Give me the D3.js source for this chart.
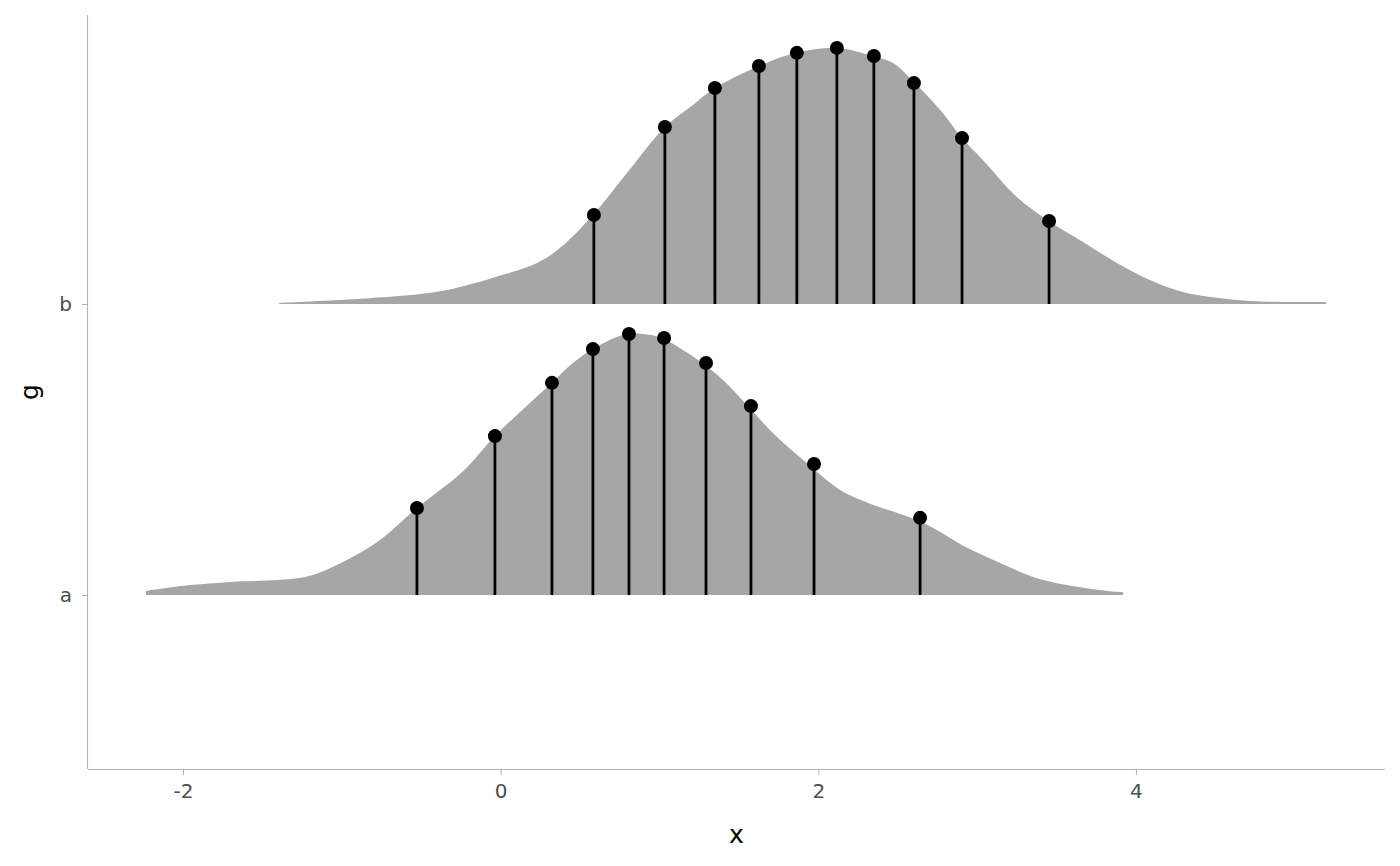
<!DOCTYPE html>
<html><head><meta charset="utf-8">
<script src="https://cdn.jsdelivr.net/npm/d3@7"></script>
<style>body{margin:0;background:#fff}svg{display:block}</style>
</head><body>
<script>
const groups = ["a", "b"];
const xTicks = [-2, 0, 2, 4];
// density curves: x values and heights (in ridge units)
const densA_x = [-2.233,-1.955,-1.703,-1.389,-1.182,-0.968,-0.760,-0.527,-0.237,-0.036,0.184,0.323,0.455,0.581,0.770,0.896,1.016,1.148,1.268,1.400,1.557,1.714,1.935,2.137,2.307,2.584,2.723,2.937,3.145,3.352,3.566,3.818,3.919];
const densA_h = [0.014,0.034,0.045,0.052,0.069,0.120,0.189,0.299,0.425,0.546,0.660,0.729,0.797,0.845,0.893,0.897,0.883,0.842,0.797,0.739,0.649,0.557,0.450,0.361,0.318,0.265,0.230,0.162,0.110,0.062,0.034,0.014,0.010];
const densB_x = [-1.394,-0.823,-0.508,-0.300,0.014,0.229,0.373,0.581,0.795,1.034,1.211,1.349,1.626,1.865,2.117,2.344,2.470,2.608,2.784,2.904,3.036,3.250,3.452,3.666,3.880,4.088,4.296,4.510,4.718,4.925,5.196];
const densB_h = [0.004,0.020,0.034,0.052,0.100,0.141,0.192,0.306,0.450,0.608,0.684,0.742,0.818,0.863,0.880,0.852,0.828,0.759,0.656,0.570,0.495,0.368,0.285,0.213,0.141,0.082,0.041,0.021,0.010,0.007,0.007];
// quantile lines and points
const qA_x = [-0.527,-0.036,0.323,0.581,0.808,1.029,1.293,1.576,1.973,2.641];
const qA_h = [0.299,0.546,0.729,0.845,0.897,0.883,0.797,0.649,0.450,0.265];
const qB_x = [0.587,1.034,1.349,1.626,1.865,2.117,2.350,2.602,2.905,3.453];
const qB_h = [0.306,0.608,0.742,0.818,0.863,0.880,0.852,0.759,0.570,0.285];

const W = 1400, H = 866;
const m = {l: 88, r: 15, t: 15, b: 97};
const svg = d3.select("body").append("svg").attr("width", W).attr("height", H);
const x = d3.scaleLinear().domain([-2.598, 5.568]).range([m.l, W - m.r]);
const y = d3.scaleLinear().domain([0.402, 2.993]).range([H - m.b, m.t]);
const pos = {a: 1, b: 2};

const series = [
  {g: "b", dx: densB_x, dh: densB_h, qx: qB_x, qh: qB_h},
  {g: "a", dx: densA_x, dh: densA_h, qx: qA_x, qh: qA_h}
];

const font = "DejaVu Sans, sans-serif";

series.forEach(s => {
  const base = pos[s.g];
  const pts = s.dx.map((v, i) => [v, s.dh[i]]);
  const area = d3.area().x(d => x(d[0])).y0(y(base)).y1(d => y(base + d[1])).curve(d3.curveCatmullRom.alpha(0.5));
  svg.append("path").datum(pts).attr("d", area).attr("fill", "#A6A6A6");
  const q = s.qx.map((v, i) => [v, s.qh[i]]);
  svg.selectAll(null).data(q).enter().append("line")
    .attr("x1", d => x(d[0])).attr("x2", d => x(d[0]))
    .attr("y1", y(base)).attr("y2", d => y(base + d[1]))
    .attr("stroke", "#000").attr("stroke-width", 2.8);
  svg.selectAll(null).data(q).enter().append("circle")
    .attr("cx", d => x(d[0])).attr("cy", d => y(base + d[1]))
    .attr("r", 7).attr("fill", "#000");
});

// axes
const axCol = "#B3B3B3";
const xAxis = svg.append("g").attr("transform", `translate(0,${H - m.b})`)
  .call(d3.axisBottom(x).tickValues(xTicks).tickSize(6).tickPadding(9).tickFormat(d3.format("d")));
xAxis.select(".domain").attr("stroke", axCol).attr("stroke-width", 1.1).attr("d", `M${m.l},0.5H${W - m.r}`);
xAxis.selectAll(".tick line").attr("stroke", axCol).attr("stroke-width", 1.1);
xAxis.selectAll(".tick text").attr("fill", "#4D4D4D").attr("font-size", 20).attr("font-family", font)
  .text(d => d < 0 ? "-" + Math.abs(d) : d);

const yAxis = svg.append("g").attr("transform", `translate(${m.l},0)`)
  .call(d3.axisLeft(y).tickValues(groups.map(g => pos[g])).tickSize(6).tickPadding(10).tickFormat((d, i) => groups[i]));
yAxis.select(".domain").attr("stroke", axCol).attr("stroke-width", 1.1).attr("d", `M-0.5,${m.t}V${H - m.b}`);
yAxis.selectAll(".tick line").attr("stroke", axCol).attr("stroke-width", 1.1);
yAxis.selectAll(".tick text").attr("fill", "#4D4D4D").attr("font-size", 20).attr("font-family", font);

svg.append("text").attr("x", (m.l + W - m.r) / 2).attr("y", 843).attr("text-anchor", "middle")
  .attr("font-family", font).attr("font-size", 25).attr("fill", "#000").text("x");
svg.append("text").attr("transform", `translate(38,${(m.t + H - m.b) / 2}) rotate(-90)`).attr("text-anchor", "middle")
  .attr("font-family", font).attr("font-size", 25).attr("fill", "#000").text("g");
</script>
</body></html>
